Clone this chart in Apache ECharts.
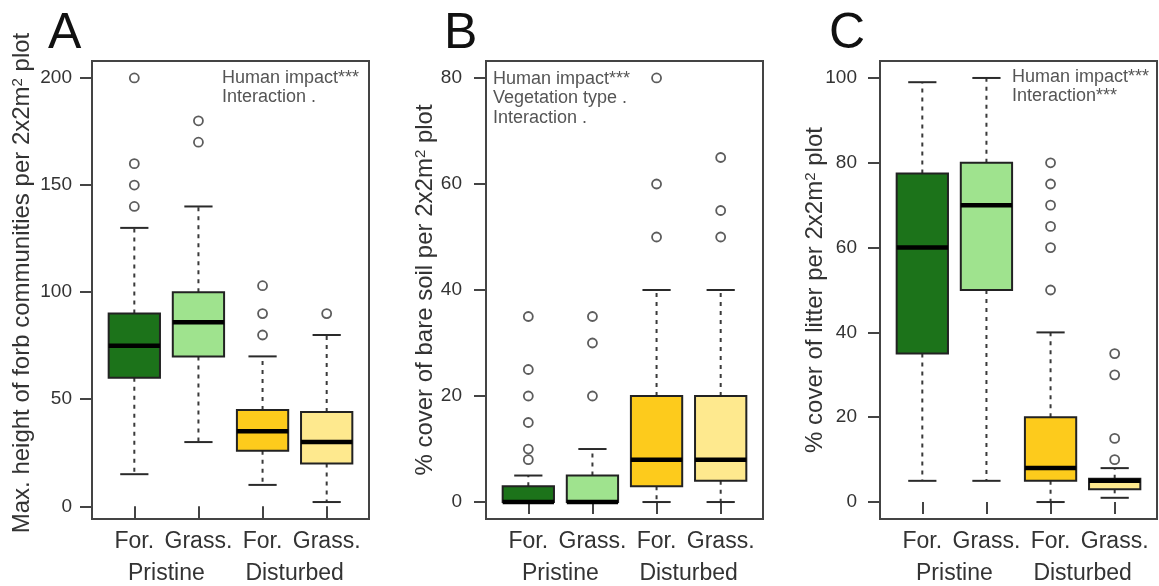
<!DOCTYPE html>
<html>
<head>
<meta charset="utf-8">
<script src="https://cdn.jsdelivr.net/npm/echarts@6/dist/echarts.min.js"></script>
<style>
  html, body { margin: 0; padding: 0; background: #fff; }
  #chart { width: 1159px; height: 586px; }
</style>
</head>
<body>
<div id="chart"></div>
<script>
// Groups along each x axis
const groupLabels = ['For.', 'Grass.', 'For.', 'Grass.'];
const impactLabels = ['Pristine', 'Disturbed'];

// Box statistics per group: [lower whisker, Q1, median, Q3, upper whisker]
const heightStats = [[15, 60, 75, 90, 130], [30, 70, 86, 100, 140], [10, 26, 35, 45, 70], [2, 20, 30, 44, 80]];
const heightOutliers = [[140, 150, 160, 200], [170, 180], [80, 90, 103], [90]];
const heightTicks = [0, 50, 100, 150, 200];

const bareStats = [[0, 0, 0, 3, 5], [0, 0, 0, 5, 10], [0, 3, 8, 20, 40], [0, 4, 8, 20, 40]];
const bareOutliers = [[8, 10, 15, 20, 25, 35], [20, 30, 35], [50, 60, 80], [50, 55, 65]];
const bareTicks = [0, 20, 40, 60, 80];

const litterStats = [[5, 35, 60, 77.5, 99], [5, 50, 70, 80, 100], [0, 5, 8, 20, 40], [1, 3, 5, 5.5, 8]];
const litterOutliers = [[], [], [50, 60, 65, 70, 75, 80], [10, 15, 30, 35]];
const litterTicks = [0, 20, 40, 60, 80, 100];

const fills = ['#1c731a', '#9fe38e', '#fdcb1c', '#fee98e'];
const FONT = "'Liberation Sans', Arial, Helvetica, sans-serif";
const TEXT = '#333';
const FRAME = '#444';

const panels = [
  { letter: 'A', letterX: 43, left: 92, labelMargin: 20, stats: heightStats, outliers: heightOutliers, ticks: heightTicks,
    yTitle: 'Max. height of forb communities per 2x2m{sup|2} plot', yTitleX: 22, yTitleY: 283,
    notes: ['Human impact***', 'Interaction .'], notesX: 222, notesY: 78 },
  { letter: 'B', letterX: 439, left: 486, labelMargin: 24, stats: bareStats, outliers: bareOutliers, ticks: bareTicks,
    yTitle: '% cover of bare soil per 2x2m{sup|2} plot', yTitleX: 425, yTitleY: 290,
    notes: ['Human impact***', 'Vegetation type .', 'Interaction .'], notesX: 493, notesY: 79 },
  { letter: 'C', letterX: 824, left: 880, labelMargin: 23, stats: litterStats, outliers: litterOutliers, ticks: litterTicks,
    yTitle: '% cover of litter per 2x2m{sup|2} plot', yTitleX: 815, yTitleY: 290,
    notes: ['Human impact***', 'Interaction***'], notesX: 1012, notesY: 77 }
];

// Axis limits extended by 4% of the data range on each side
function extent(stats, outliers) {
  const all = stats.flat().concat(outliers.flat());
  const lo = Math.min(...all), hi = Math.max(...all);
  const pad = 0.04 * (hi - lo);
  return [lo - pad, hi + pad];
}
const nGroups = groupLabels.length;
const xMin = 0.5 - 0.04 * nGroups;
const xMax = nGroups + 0.5 + 0.04 * nGroups;

const BOX_HALF = 0.4;
const CAP_HALF = 0.22;

function renderBox(params, api) {
  const x = api.value(0);
  const lo = api.value(1), q1 = api.value(2), md = api.value(3), q3 = api.value(4), hi = api.value(5);
  const pHi = api.coord([x, hi]), pLo = api.coord([x, lo]);
  const pQ3 = api.coord([x, q3]), pQ1 = api.coord([x, q1]), pMd = api.coord([x, md]);
  const xl = api.coord([x - BOX_HALF, q3])[0], xr = api.coord([x + BOX_HALF, q3])[0];
  const cl = api.coord([x - CAP_HALF, hi])[0], cr = api.coord([x + CAP_HALF, hi])[0];
  const whisker = { stroke: '#3a3a3a', lineWidth: 2, lineDash: [4, 5] };
  const solid = { stroke: '#2a2a2a', lineWidth: 2 };
  return {
    type: 'group',
    children: [
      { type: 'line', shape: { x1: pQ3[0], y1: pQ3[1], x2: pHi[0], y2: pHi[1] }, style: whisker },
      { type: 'line', shape: { x1: pQ1[0], y1: pQ1[1], x2: pLo[0], y2: pLo[1] }, style: whisker },
      { type: 'line', shape: { x1: cl, y1: pHi[1], x2: cr, y2: pHi[1] }, style: solid },
      { type: 'line', shape: { x1: cl, y1: pLo[1], x2: cr, y2: pLo[1] }, style: solid },
      { type: 'rect', shape: { x: xl, y: pQ3[1], width: xr - xl, height: pQ1[1] - pQ3[1] },
        style: { fill: fills[params.dataIndex], stroke: '#222', lineWidth: 2 } },
      { type: 'line', shape: { x1: xl, y1: pMd[1], x2: xr, y2: pMd[1] }, style: { stroke: '#000', lineWidth: 4.5 } }
    ]
  };
}

const option = {
  animation: false,
  backgroundColor: '#fff',
  title: panels.map(p => ({
    text: p.letter, left: p.letterX, top: 4,
    textStyle: { fontSize: 50, fontWeight: 'normal', color: '#111', fontFamily: FONT }
  })),
  grid: panels.map(p => ({
    left: p.left, top: 61, width: 277, height: 458,
    show: true, borderColor: FRAME, borderWidth: 2, backgroundColor: 'transparent'
  })),
  xAxis: [],
  yAxis: [],
  series: [],
  graphic: []
};

panels.forEach((p, i) => {
  const [yMin, yMax] = extent(p.stats, p.outliers);
  const groupPos = groupLabels.map((_, k) => k + 1);
  option.xAxis.push({
    gridIndex: i, type: 'value', position: 'bottom', offset: 0, min: xMin, max: xMax,
    axisLine: { show: false }, splitLine: { show: false },
    axisTick: { show: true, length: 12, customValues: groupPos, lineStyle: { color: FRAME, width: 2 } },
    axisLabel: { customValues: groupPos, formatter: v => groupLabels[Math.round(v) - 1],
      fontSize: 23, color: TEXT, fontFamily: FONT, margin: 11 }
  });
  option.xAxis.push({
    gridIndex: i, type: 'value', position: 'bottom', offset: 0, min: xMin, max: xMax,
    axisLine: { show: false }, splitLine: { show: false }, axisTick: { show: false },
    axisLabel: { customValues: [1.5, 3.5], formatter: v => impactLabels[v < 2.5 ? 0 : 1],
      fontSize: 23, color: TEXT, fontFamily: FONT, margin: 43 }
  });
  option.yAxis.push({
    gridIndex: i, type: 'value', min: yMin, max: yMax,
    axisLine: { show: false }, splitLine: { show: false },
    axisTick: { show: true, length: 12, customValues: p.ticks, lineStyle: { color: FRAME, width: 2 } },
    axisLabel: { customValues: p.ticks, fontSize: 19, color: TEXT, fontFamily: FONT, margin: p.labelMargin }
  });
  option.series.push({
    type: 'custom', xAxisIndex: 2 * i, yAxisIndex: i,
    data: p.stats.map((s, k) => [k + 1].concat(s)),
    encode: { x: 0, y: [1, 2, 3, 4, 5] },
    renderItem: renderBox, silent: true
  });
  option.series.push({
    type: 'scatter', xAxisIndex: 2 * i, yAxisIndex: i,
    data: p.outliers.flatMap((arr, k) => arr.map(v => [k + 1, v])),
    symbol: 'circle', symbolSize: 9, silent: true,
    itemStyle: { color: 'rgba(0,0,0,0)', borderColor: '#333', borderWidth: 1.8 }
  });
  option.graphic.push({
    type: 'text', x: p.yTitleX, y: p.yTitleY, rotation: Math.PI / 2,
    style: {
      text: p.yTitle, fontSize: 24, fontFamily: FONT, fill: TEXT, align: 'center', verticalAlign: 'middle',
      rich: { sup: { fontSize: 15, fontFamily: FONT, fill: TEXT, verticalAlign: 'top', lineHeight: 15 } }
    }
  });
  p.notes.forEach((t, j) => {
    option.graphic.push({
      type: 'text', x: p.notesX, y: p.notesY + j * 19.5,
      style: { text: t, fontSize: 18, fontFamily: FONT, fill: '#555', align: 'left', verticalAlign: 'middle' }
    });
  });
});

const chart = echarts.init(document.getElementById('chart'), null, { renderer: 'canvas' });
chart.setOption(option);
</script>
</body>
</html>
